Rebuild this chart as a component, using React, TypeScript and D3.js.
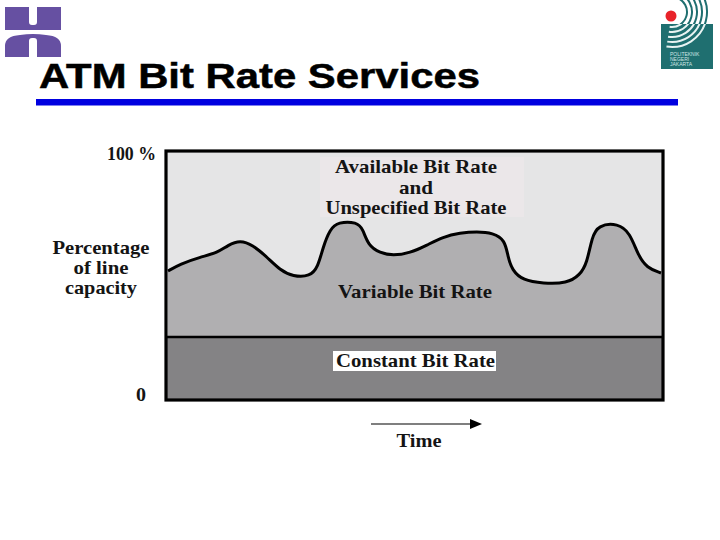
import React from "react";
import * as d3 from "d3";

const titleText = "ATM Bit Rate Services";
const timeUnits = [2,14,34,51,62,74,87,101,114,127,144,152,157,164,172,191,197,202,214,227,244,261,277,294,311,327,339,342,346,357,377,401,414,421,426,432,452,464,472,481,495];
const variableTop = [51.8,54.6,57.4,59,62.2,64.2,62.2,57.4,52.2,49.6,49.6,53.4,61.4,68.6,71.5,71.5,68.6,62.2,59,58,59,62.2,65.5,67.1,67.7,67.1,64.3,57.4,52.2,48,46.8,46.8,50.2,55,65.5,70.2,71,67.1,58.2,53,51];
const constantTop = 25.3;
const topLabelLines = ["Available Bit Rate", "and", "Unspecified Bit Rate"];
const topLabelWidths = [162, 34, 181];
const yLabelLines = ["Percentage", "of line", "capacity"];
const yLabelWidths = [97, 55, 72];
const swooshRadii = [15, 20, 25, 30, 35];

const x = d3.scaleLinear().domain([0, 497]).range([166, 663]);
const y = d3.scaleLinear().domain([0, 100]).range([400, 151]);

const pts = timeUnits.map((t, i) => [t, variableTop[i]] as [number, number]);
const curve = d3.line<[number, number]>().x(d => x(d[0])).y(d => y(d[1])).curve(d3.curveBasis);
const area = d3.area<[number, number]>().x(d => x(d[0])).y0(y(constantTop)).y1(d => y(d[1])).curve(d3.curveBasis);

const serif = "'Liberation Serif', serif";

function Label({ cx, yy, w, children, size = 19 }: { cx: number; yy: number; w: number; children: string; size?: number }) {
  return <text x={cx} y={yy} fontSize={size} textLength={w} lengthAdjust="spacingAndGlyphs">{children}</text>;
}

export default function App() {
  const arcs = swooshRadii.map(r => d3.arc()({ innerRadius: r, outerRadius: r, startAngle: 0.35, endAngle: 3.3 }) as string);
  return (
    <svg width={720} height={540} style={{ position: "absolute", left: 0, top: 0, background: "#fff" }}>
      {/* left logo */}
      <path fill="#6650a2" d="M5 7H29V22Q29 25 32 25H34Q37 25 37 22V7H61V30Q45 30 33 30Q21 30 5 30Z" />
      <path fill="#6650a2" d="M5 57V46Q5 36 20 35Q33 33 46 35Q61 36 61 46V57H37V41Q37 38 34 38H32Q29 38 29 41V57Z" />
      {/* right logo */}
      <defs>
        <clipPath id="logoBox"><rect x={661} y={24} width={52} height={45} /></clipPath>
        <clipPath id="logoTop"><rect x={661} y={0} width={59} height={24} /></clipPath>
      </defs>
      <rect x={661} y={24} width={52} height={45} fill="#1f6f70" />
      <g clipPath="url(#logoTop)">
        {arcs.map((d, i) => <path key={i} d={d} transform="translate(672,12)" fill="none" stroke="#1f6f70" strokeWidth={2} />)}
      </g>
      <g clipPath="url(#logoBox)">
        {arcs.map((d, i) => <path key={i} d={d} transform="translate(672,12)" fill="none" stroke="#e8f3f2" strokeWidth={2} />)}
      </g>
      <circle cx={671} cy={16} r={5.5} fill="#e8232a" />
      <g fontFamily="'Liberation Sans', sans-serif" fontSize={5} fill="#cfe5e5">
        <text x={670} y={56}>POLITEKNIK</text>
        <text x={670} y={61}>NEGERI</text>
        <text x={670} y={66}>JAKARTA</text>
      </g>

      <text x={39} y={88} fontFamily="'Liberation Sans', sans-serif" fontWeight="bold" fontSize={35} fill="#000" stroke="#000" strokeWidth={0.5} textLength={441} lengthAdjust="spacingAndGlyphs">{titleText}</text>
      <rect x={36} y={99} width={642} height={6.5} fill="#0000e0" />

      {/* plot */}
      <rect x={x(0)} y={y(100)} width={497} height={249} fill="#e5e5e6" />
      <rect x={320} y={157} width={204} height={60} fill="#ebe7e9" />
      <path d={area(pts) as string} fill="#b0afb1" />
      <rect x={x(0)} y={y(constantTop)} width={497} height={y(0) - y(constantTop)} fill="#848385" />
      <line x1={x(0)} x2={x(497)} y1={y(constantTop)} y2={y(constantTop)} stroke="#000" strokeWidth={2.5} />
      <path d={curve(pts) as string} fill="none" stroke="#000" strokeWidth={3} />
      <rect x={x(0)} y={y(100)} width={497} height={249} fill="none" stroke="#000" strokeWidth={3.2} />

      <g fontFamily={serif} fontWeight="bold" fill="#141414" textAnchor="middle">
        {topLabelLines.map((l, i) => <Label key={l} cx={416} yy={173 + i * 20.5} w={topLabelWidths[i]}>{l}</Label>)}
        <Label cx={415} yy={298} w={154}>Variable Bit Rate</Label>
        <rect x={333} y={351} width={163} height={20} fill="#fff" />
        <Label cx={415.5} yy={367} w={159}>Constant Bit Rate</Label>
        {yLabelLines.map((l, i) => <Label key={l} cx={101} yy={254 + i * 20} w={yLabelWidths[i]}>{l}</Label>)}
        <Label cx={131.5} yy={160} w={49}>100 %</Label>
        <Label cx={141} yy={401} w={10}>0</Label>
        <Label cx={419} yy={447} w={45}>Time</Label>
      </g>

      <line x1={371} x2={472} y1={424} y2={424} stroke="#000" strokeWidth={1.2} />
      <path d="M470 419L482 424L470 429Z" fill="#000" />
    </svg>
  );
}
